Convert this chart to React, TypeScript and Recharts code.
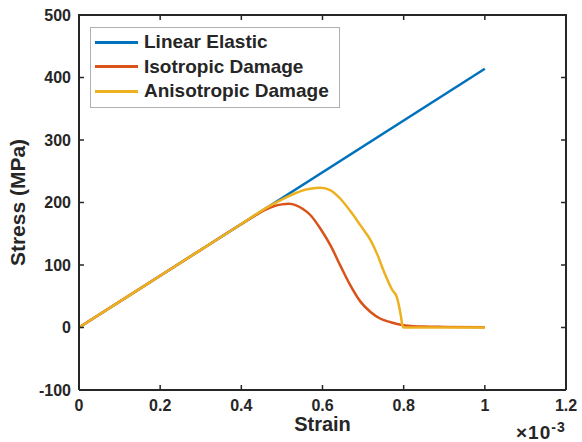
import { LineChart, Line, XAxis, YAxis, Legend } from 'recharts';

// strain in units of 1e-3, stress in MPa
const linearElastic = [
  { x: 0, y: 0 },
  { x: 1, y: 414 },
];

const isotropicDamage = [
  { x: 0, y: 0 },
  { x: 0.1, y: 41.4 },
  { x: 0.2, y: 82.8 },
  { x: 0.3, y: 124.2 },
  { x: 0.4, y: 165.6 },
  { x: 0.44, y: 181.5 },
  { x: 0.46, y: 188.5 },
  { x: 0.48, y: 194 },
  { x: 0.5, y: 197 },
  { x: 0.517, y: 198 },
  { x: 0.535, y: 195.5 },
  { x: 0.55, y: 190.5 },
  { x: 0.57, y: 180 },
  { x: 0.595, y: 158 },
  { x: 0.62, y: 131 },
  { x: 0.644, y: 99 },
  { x: 0.669, y: 67 },
  { x: 0.694, y: 41 },
  { x: 0.719, y: 24.5 },
  { x: 0.743, y: 14 },
  { x: 0.768, y: 8.5 },
  { x: 0.793, y: 4.5 },
  { x: 0.817, y: 2.5 },
  { x: 0.85, y: 1.5 },
  { x: 0.9, y: 1 },
  { x: 1, y: 0.5 },
];

const anisotropicDamage = [
  { x: 0, y: 0 },
  { x: 0.1, y: 41.4 },
  { x: 0.2, y: 82.8 },
  { x: 0.3, y: 124.2 },
  { x: 0.4, y: 165.6 },
  { x: 0.47, y: 194.6 },
  { x: 0.49, y: 201.5 },
  { x: 0.51, y: 208 },
  { x: 0.53, y: 214 },
  { x: 0.55, y: 219 },
  { x: 0.57, y: 222 },
  { x: 0.595, y: 223.5 },
  { x: 0.62, y: 219.5 },
  { x: 0.644, y: 206 },
  { x: 0.669, y: 186 },
  { x: 0.694, y: 163 },
  { x: 0.719, y: 139 },
  { x: 0.735, y: 117 },
  { x: 0.751, y: 90 },
  { x: 0.772, y: 60 },
  { x: 0.783, y: 49 },
  { x: 0.793, y: 19 },
  { x: 0.797, y: 3 },
  { x: 0.8, y: 0 },
  { x: 0.85, y: 0 },
  { x: 1, y: 0 },
];

const xTicks = [0, 0.2, 0.4, 0.6, 0.8, 1, 1.2];
const yTicks = [-100, 0, 100, 200, 300, 400, 500];

const SERIES = [
  { name: 'Linear Elastic', data: linearElastic, color: '#0072BD' },
  { name: 'Isotropic Damage', data: isotropicDamage, color: '#D95319' },
  { name: 'Anisotropic Damage', data: anisotropicDamage, color: '#EDB120' },
];

const W = 582;
const H = 442;
const MARGIN = { top: 15, right: 16, left: 0, bottom: 0 };
const Y_AXIS_W = 79;
const X_AXIS_H = 52;
const PLOT_W = W - MARGIN.left - MARGIN.right - Y_AXIS_W;
const PLOT_H = H - MARGIN.top - MARGIN.bottom - X_AXIS_H;

const FONT = '"Liberation Sans", Arial, sans-serif';
const INK = '#262626';
const X_MARGIN = 9.5;
const Y_MARGIN = 8;
const TICK_LEN = 5;

// bottom tick: label + inward tick marks at bottom and top (MATLAB box style)
function BottomTick(props: any) {
  const { x, y, payload } = props;
  const axisY = y - X_MARGIN;
  const topY = axisY - PLOT_H;
  return (
    <g>
      <line x1={x} y1={axisY} x2={x} y2={axisY - TICK_LEN} stroke={INK} strokeWidth={1.5} />
      <line x1={x} y1={topY} x2={x} y2={topY + TICK_LEN} stroke={INK} strokeWidth={1.5} />
      <text x={x} y={y} dy="0.71em" textAnchor="middle" fill={INK} fontSize={16} fontWeight="bold" fontFamily={FONT}>
        {String(payload.value)}
      </text>
    </g>
  );
}

// left tick: label + inward tick marks at left and right
function LeftTick(props: any) {
  const { x, y, payload } = props;
  const axisX = x + Y_MARGIN;
  const rightX = axisX + PLOT_W;
  return (
    <g>
      <line x1={axisX} y1={y} x2={axisX + TICK_LEN} y2={y} stroke={INK} strokeWidth={1.5} />
      <line x1={rightX} y1={y} x2={rightX - TICK_LEN} y2={y} stroke={INK} strokeWidth={1.5} />
      <text x={x} y={y} dy="0.355em" textAnchor="end" fill={INK} fontSize={16} fontWeight="bold" fontFamily={FONT}>
        {String(payload.value)}
      </text>
    </g>
  );
}

function LegendBox() {
  return (
    <div
      style={{
        border: '1px solid #b0b0b0',
        background: '#fff',
        padding: '2px 0 3px 4px',
        fontFamily: FONT,
        fontWeight: 'bold',
        fontSize: 19,
        color: INK,
      }}
    >
      {SERIES.map((s) => (
        <div key={s.name} style={{ display: 'flex', alignItems: 'center', height: 24.5 }}>
          <span style={{ display: 'inline-block', width: 43, height: 3, background: s.color, marginRight: 6 }} />
          <span style={{ whiteSpace: 'nowrap' }}>{s.name}</span>
        </div>
      ))}
    </div>
  );
}

export default function App() {
  return (
    <div style={{ position: 'absolute', left: 0, top: 0, width: W, height: H, background: '#fff' }}>
      <LineChart width={W} height={H} margin={MARGIN}>
        <XAxis
          type="number"
          dataKey="x"
          domain={[0, 1.2]}
          ticks={xTicks}
          height={X_AXIS_H}
          tickSize={0}
          tickMargin={X_MARGIN}
          tickLine={false}
          tick={<BottomTick />}
          interval={0}
          axisLine={{ stroke: INK, strokeWidth: 2 }}
          label={{
            value: 'Strain',
            position: 'insideBottom',
            offset: 11,
            style: { fontFamily: FONT, fontSize: 20, fontWeight: 'bold', fill: INK },
          }}
        />
        <YAxis
          type="number"
          domain={[-100, 500]}
          ticks={yTicks}
          width={Y_AXIS_W}
          tickSize={0}
          tickMargin={Y_MARGIN}
          tickLine={false}
          tick={<LeftTick />}
          interval={0}
          axisLine={{ stroke: INK, strokeWidth: 2 }}
          label={{
            value: 'Stress (MPa)',
            angle: -90,
            position: 'insideLeft',
            offset: 18,
            style: { fontFamily: FONT, fontSize: 21, fontWeight: 'bold', fill: INK, textAnchor: 'middle' },
          }}
        />
        <Legend
          layout="vertical"
          align="center"
          verticalAlign="middle"
          content={<LegendBox />}
          wrapperStyle={{ left: 90, top: 27, width: 250 }}
        />
        {SERIES.map((s) => (
          <Line
            key={s.name}
            data={s.data}
            dataKey="y"
            name={s.name}
            type="monotone"
            stroke={s.color}
            strokeWidth={2.5}
            dot={false}
            activeDot={false}
            isAnimationActive={false}
          />
        ))}
      </LineChart>
      {/* top and right edges of the axes box */}
      <div
        style={{
          position: 'absolute',
          left: MARGIN.left + Y_AXIS_W - 1,
          top: MARGIN.top - 1,
          width: PLOT_W + 2,
          height: PLOT_H + 1,
          borderTop: `2px solid ${INK}`,
          borderRight: `2px solid ${INK}`,
          boxSizing: 'border-box',
          pointerEvents: 'none',
        }}
      />
      <div
        style={{
          position: 'absolute',
          left: 516,
          top: 424,
          fontFamily: FONT,
          fontSize: 19,
          fontWeight: 'bold',
          letterSpacing: 1,
          color: INK,
          whiteSpace: 'nowrap',
          lineHeight: '18px',
        }}
      >
        ×10<sup style={{ fontSize: 14, verticalAlign: 'top', position: 'relative', top: -6 }}>-3</sup>
      </div>
    </div>
  );
}
